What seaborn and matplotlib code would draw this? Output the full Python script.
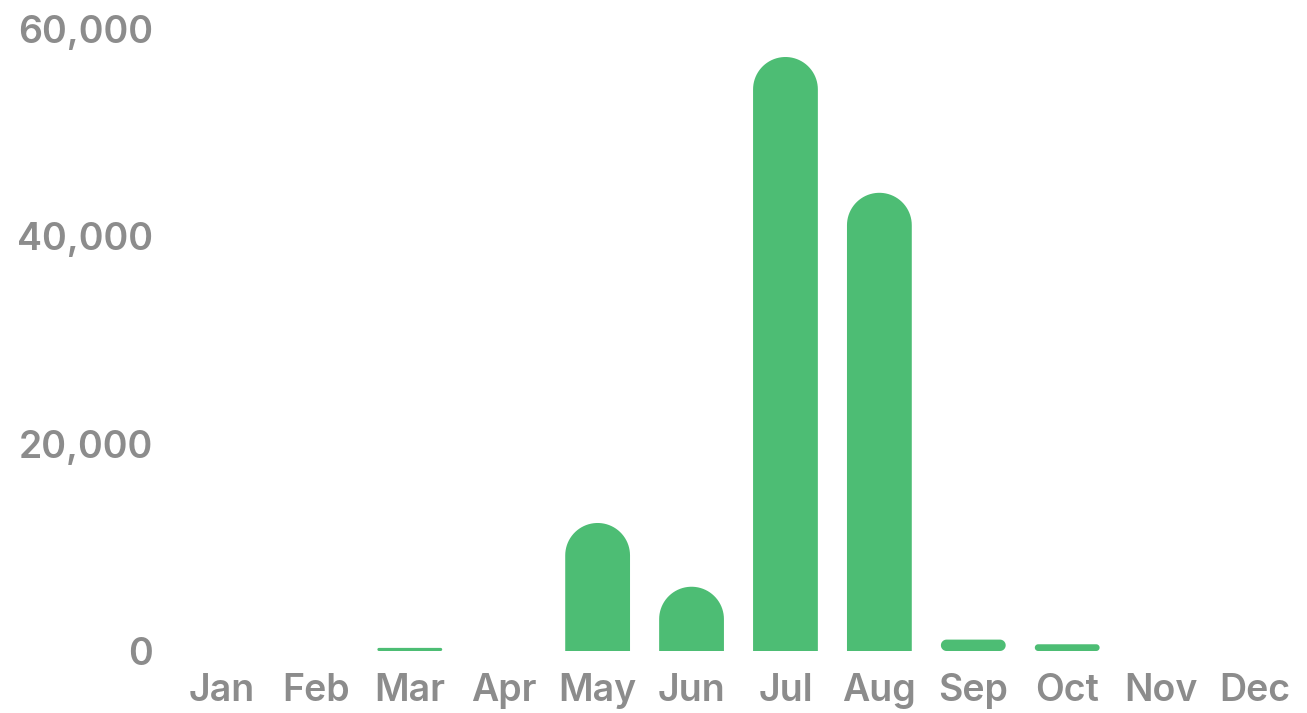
import numpy as np
import pandas as pd
import matplotlib
matplotlib.use("Agg")
import matplotlib.pyplot as plt
from matplotlib.patches import Polygon
from matplotlib.ticker import FuncFormatter
import seaborn as sns

months = ["Jan", "Feb", "Mar", "Apr", "May", "Jun",
          "Jul", "Aug", "Sep", "Oct", "Nov", "Dec"]
values = [0, 0, 300, 0, 12350, 6200, 57300, 44200, 1100, 650, 0, 0]
y_ticks = [0, 20000, 40000, 60000]

bar_color = "#4dbd74"
text_color = "#8c8c8c"

df = pd.DataFrame({"month": months, "value": values})

sns.set_style("white")
plt.rcParams["font.family"] = ["Inter", "DejaVu Sans"]

fig = plt.figure(figsize=(13.07, 7.13), dpi=100)
ax = fig.add_axes([175 / 1307, 62 / 713, 1127 / 1307, 622 / 713])

sns.barplot(data=df, x="month", y="value", color=bar_color,
            width=0.69, saturation=1, ax=ax)

ax.set_xlim(-0.5, 11.5)
ax.set_ylim(0, 60000)
ax.set_yticks(y_ticks)
ax.yaxis.set_major_formatter(FuncFormatter(lambda v, p: f"{int(v):,}"))
ax.set_xlabel("")
ax.set_ylabel("")
sns.despine(ax=ax, left=True, bottom=True)
ax.tick_params(axis="both", length=0, colors=text_color, labelsize=27)
ax.tick_params(axis="y", pad=16)
ax.tick_params(axis="x", pad=16)
for lab in ax.get_xticklabels() + ax.get_yticklabels():
    lab.set_fontweight("semibold")
    lab.set_color(text_color)

# replace square bars with rounded-top shapes
fig.canvas.draw()
px_x = ax.transData.transform((1, 0))[0] - ax.transData.transform((0, 0))[0]
px_y = ax.transData.transform((0, 1))[1] - ax.transData.transform((0, 0))[1]
bars = list(ax.patches)
for p in bars:
    x0, w, h = p.get_x(), p.get_width(), p.get_height()
    p.remove()
    if h <= 0:
        continue
    rx = w / 2
    ry = rx * px_x / px_y
    t = np.linspace(0, np.pi, 40)
    if h >= ry:
        cx, cy = x0 + rx, h - ry
        arc = np.column_stack([cx + rx * np.cos(t), cy + ry * np.sin(t)])
        pts = np.vstack([[x0 + w, 0], arc, [x0, 0]])
    else:
        # thin pill
        r_y = h / 2
        r_x = r_y * px_y / px_x
        tr = np.linspace(-np.pi / 2, np.pi / 2, 20)
        tl = np.linspace(np.pi / 2, 3 * np.pi / 2, 20)
        right = np.column_stack([x0 + w - r_x + r_x * np.cos(tr), r_y + r_y * np.sin(tr)])
        left = np.column_stack([x0 + r_x + r_x * np.cos(tl), r_y + r_y * np.sin(tl)])
        pts = np.vstack([right, left])
    ax.add_patch(Polygon(pts, closed=True, facecolor=bar_color,
                         edgecolor="none", clip_on=False))

fig.savefig("out.png", dpi=100)
